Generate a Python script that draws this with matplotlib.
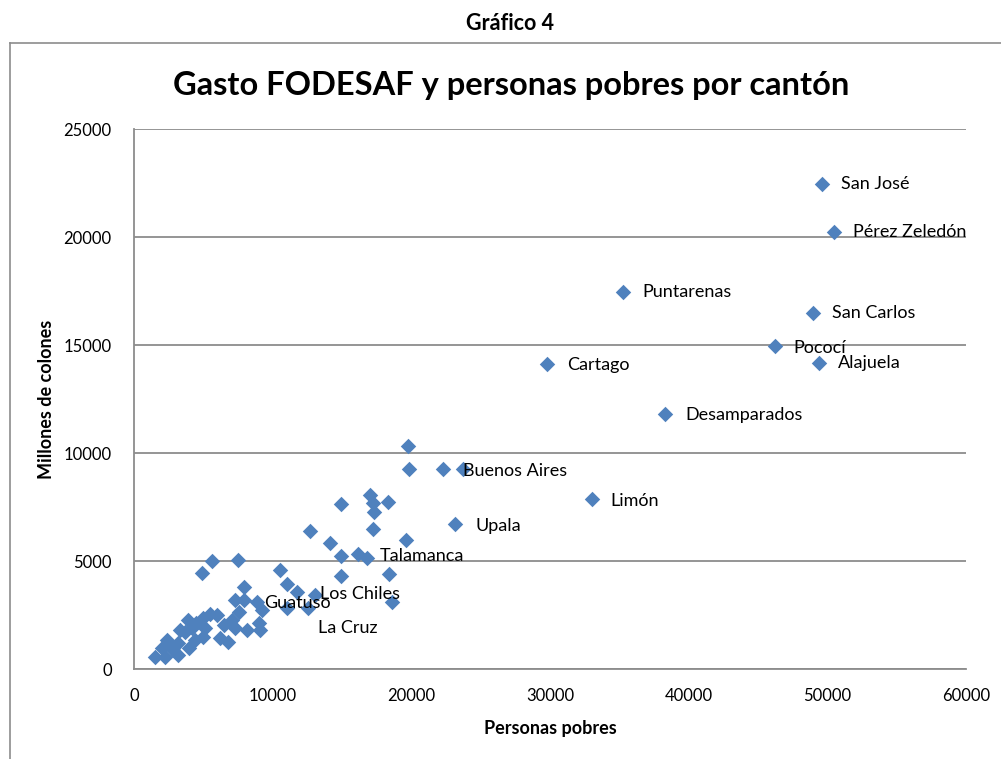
import matplotlib
matplotlib.use("Agg")
from matplotlib import pyplot as plt
from matplotlib.lines import Line2D

# Personas pobres (x) y gasto FODESAF en millones de colones (y) por cantón
pobres = [1500, 2200, 3200, 2000, 2800, 2400, 3200, 4400, 5000, 6200,
          6800, 3300, 4200, 3900, 4500, 5000, 5500, 6000, 7300, 8150,
          9100, 7100, 7600, 9000, 9200, 8900, 7300, 7900, 7900, 4900,
          5600, 7500, 10500, 11000, 11750, 11000, 12550, 13050, 12700, 14100,
          14900, 14900, 14900, 16150, 16800, 17000, 17200, 17300, 17200, 18300,
          18400, 18600, 19600, 19750, 19800, 22300, 23700, 23150, 29800, 33000,
          35300, 38300, 46200, 49000, 49400, 49600, 50500, 2600, 3700, 5100,
          6500, 4000]
gasto = [550, 550, 650, 950, 880, 1340, 1200, 1340, 1480, 1440,
         1250, 1800, 1900, 2270, 2130, 2360, 2550, 2500, 1900, 1800,
         1800, 2270, 2640, 2130, 2730, 3100, 3200, 3200, 3800, 4440,
         5000, 5050, 4580, 3940, 3560, 2820, 2820, 3430, 6390, 5830,
         5230, 4310, 7640, 5320, 5140, 8060, 7690, 7270, 6480, 7730,
         4400, 3100, 5970, 10330, 9260, 9260, 9260, 6710, 14100, 7870,
         17450, 11800, 14950, 16500, 14170, 22450, 20230, 1110, 1710, 1900,
         2040, 970]

# etiquetas: nombre, posición del punto y desplazamiento del texto (px)
etiquetas = ["San José", "Pérez Zeledón", "Puntarenas", "San Carlos", "Pococí",
             "Alajuela", "Cartago", "Desamparados", "Buenos Aires", "Limón",
             "Upala", "Talamanca", "Los Chiles", "Guatuso", "La Cruz"]
etq_x = [49600, 50500, 35300, 49000, 46200, 49400, 29800, 38300, 22300, 33000,
         23150, 16150, 11750, 7900, 12550]
etq_y = [22450, 20230, 17450, 16500, 14950, 14170, 14100, 11800, 9260, 7870,
         6710, 5320, 3560, 3200, 2820]
etq_dx = [19, 19, 19, 19, 19, 19, 20, 20, 20, 19, 20, 22, 23, 21, 10]
etq_dy = [0, 0, 0, 0, -2, 0, -1, -1, -2, -2, -2, -2, -2, -3, -20]

azul = "#4F81BD"
gris = "#8C8C8C"

fig = plt.figure(figsize=(10.01, 7.59), dpi=100)
plt.rc('font', family=['Lato', 'DejaVu Sans'])

# marco del área del gráfico
fig.add_artist(Line2D([10/1001, 10/1001], [0, 1 - 43/759], color=gris, lw=1.2,
                      transform=fig.transFigure))
fig.add_artist(Line2D([10/1001, 1], [1 - 43/759, 1 - 43/759], color=gris, lw=1.2,
                      transform=fig.transFigure))

fig.text(510/1001, 1 - 23/759, "Gráfico 4", ha='center', va='center',
         fontsize=15.5, fontweight='bold')
fig.text(511/1001, 1 - 85/759, "Gasto FODESAF y personas pobres por cantón",
         ha='center', va='center', fontsize=23.5, fontweight='bold')

ax = fig.add_axes([134/1001, 1 - 669/759, (966 - 134)/1001, (669 - 129)/759])
ax.scatter(pobres, gasto, marker='D', s=62, color=azul, linewidths=0, zorder=3)

for nom, x, y, dx, dy in zip(etiquetas, etq_x, etq_y, etq_dx, etq_dy):
    ax.annotate(nom, (x, y), xytext=(dx, dy), textcoords='offset pixels',
                ha='left', va='center', fontsize=13, zorder=4)

ax.set_xlim(0, 60000)
ax.set_ylim(0, 25000)
ax.set_xticks(range(0, 60001, 10000))
ax.set_yticks(range(0, 25001, 5000))
ax.yaxis.grid(True, color=gris, lw=1.3)
ax.set_axisbelow(True)
for s in ['top', 'right']:
    ax.spines[s].set_visible(False)
for s in ['left', 'bottom']:
    ax.spines[s].set_color(gris)
    ax.spines[s].set_linewidth(1.3)
ax.tick_params(length=0, labelsize=12, pad=14)
ax.tick_params(axis='y', pad=16)

ax.set_xlabel("Personas pobres", fontsize=13, fontweight='bold', labelpad=11)
ax.set_ylabel("Millones de colones", fontsize=13, fontweight='bold', labelpad=6)

plt.savefig("out.png", dpi=100)
